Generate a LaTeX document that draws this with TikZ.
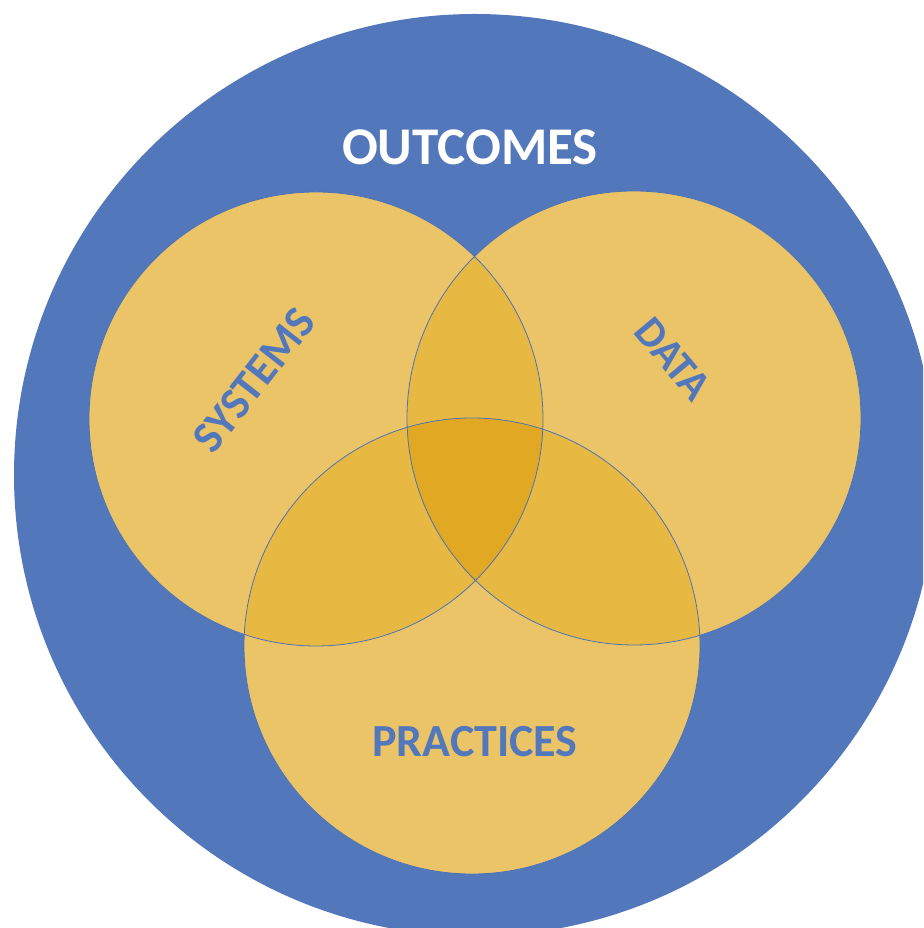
\documentclass[tikz,border=0pt]{standalone}
\usepackage{fontspec}
\setmainfont{Carlito}
\usepackage{tikz}

\definecolor{outblue}{HTML}{5278BB}
\definecolor{ringgold}{HTML}{ECC468}
\definecolor{pairgold}{HTML}{E8B942}
\definecolor{coregold}{HTML}{E1A923}
\definecolor{edgeblue}{HTML}{4C72B8}

\begin{document}
\begin{tikzpicture}[
                x=1pt, y=1pt,
                rim/.style={draw=edgeblue, line width=0.8pt}, % thin outline of each circle
                venntext/.style={font=\bfseries\fontsize{43}{43}\selectfont, text=outblue}, % circle labels
                toptext/.style={font=\bfseries\fontsize{53}{53}\selectfont, text=white} % outer label
                ]
                \useasboundingbox (0,0) rectangle (923,928);
                \clip (0,0) rectangle (923,928);
                \fill[white] (0,0) rectangle (923,928);

                \coordinate (whole) at (475,453);
                \coordinate (sys) at (316,509);
                \coordinate (dat) at (634,510);
                \coordinate (pra) at (472,282);

                \fill[outblue] (whole) circle (461pt);

                \fill[ringgold] (sys) circle (227pt);
                \fill[ringgold] (dat) circle (227pt);
                \fill[ringgold] (pra) circle (228pt);

                % overlaps of two circles
                \begin{scope}
                    \clip (sys) circle (227pt);
                    \fill[pairgold] (dat) circle (227pt);
                    \fill[pairgold] (pra) circle (228pt);
                \end{scope}
                \begin{scope}
                    \clip (dat) circle (227pt);
                    \fill[pairgold] (pra) circle (228pt);
                \end{scope}
                % overlap of all three
                \begin{scope}
                    \clip (sys) circle (227pt);
                    \clip (dat) circle (227pt);
                    \fill[coregold] (pra) circle (228pt);
                \end{scope}

                \draw[rim] (sys) circle (227pt);
                \draw[rim] (dat) circle (227pt);
                \draw[rim] (pra) circle (228pt);

                \node[toptext] (outcomes) at (470,781) {OUTCOMES};
                \node[venntext, rotate=52, font=\bfseries\fontsize{45}{45}\selectfont] (systems) at (254,548) {SYSTEMS};
                \node[venntext, rotate=-50] (data) at (673,569) {DATA};
                \node[venntext, font=\bfseries\fontsize{46}{46}\selectfont] (practices) at (475,186) {PRACTICES};
            \end{tikzpicture}
\end{document}
